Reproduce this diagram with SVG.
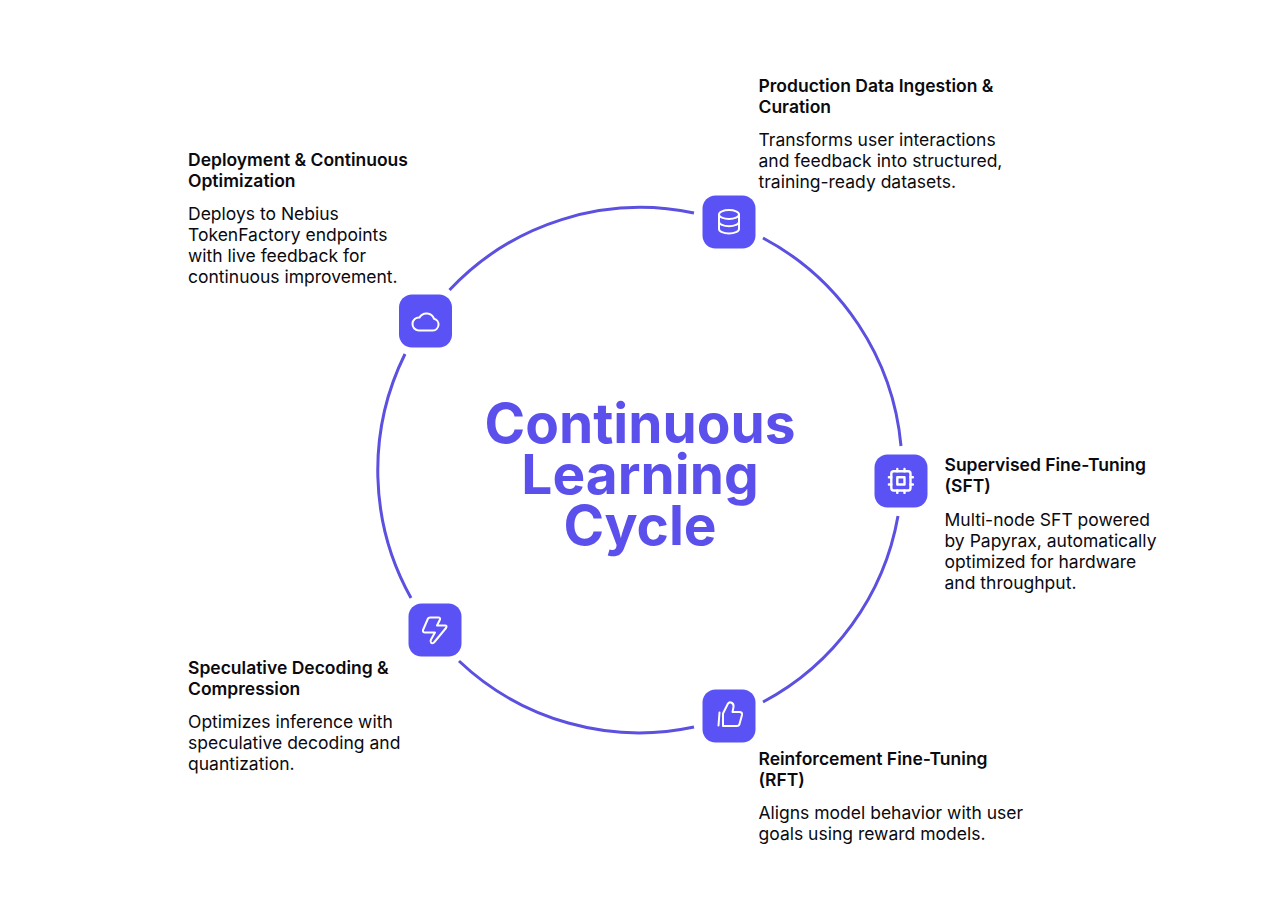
<svg xmlns="http://www.w3.org/2000/svg" width="1280" height="919" viewBox="0 0 1280 919">
<style>
.h{font:600 17.5px Inter,"Liberation Sans",sans-serif;fill:#0a0a0f}
.b{font:400 17.5px Inter,"Liberation Sans",sans-serif;fill:#0a0a0f}
.c{font:700 55px Inter,"Liberation Sans",sans-serif;fill:#5b50ec;text-anchor:middle}
.a{fill:none;stroke:#5b50e0;stroke-width:3}
.bx{fill:#5b52f5}
.i{fill:none;stroke:#fff;stroke-width:2;stroke-linecap:round;stroke-linejoin:round}
</style>
<rect width="1280" height="919" fill="#fff"/>
<g id="connectors">
<path class="a" d="M449.500 290A262 262 0 0 1 694 213"/>
<path class="a" d="M763 238A262 262 0 0 1 901 446"/>
<path class="a" d="M898 516A262 262 0 0 1 763 702"/>
<path class="a" d="M694 727A262 262 0 0 1 459 661"/>
<path class="a" d="M411 598A262 262 0 0 1 405 354"/>
</g>
<g id="center"><text class="c" x="640" y="443">Continuous</text><text class="c" x="640" y="494">Learning</text><text class="c" x="640" y="545">Cycle</text></g>
<g id="node-data">
<rect class="bx" x="702.500" y="195.500" width="53" height="53" rx="13"/>
<g class="i"><ellipse cx="729" cy="214.500" rx="10" ry="4.500"/><path d="M719 214.500V229A10 4.500 0 0 0 739 229V214.500"/><path d="M719 221.700A10 4.500 0 0 0 739 221.700"/></g>
<text class="h" x="758.500" y="91.500">Production Data Ingestion &amp;</text><text class="h" x="758.500" y="112.500">Curation</text>
<text class="b" x="758.500" y="146">Transforms user interactions</text><text class="b" x="758.500" y="167">and feedback into structured,</text><text class="b" x="758.500" y="188">training-ready datasets.</text>
</g>
<g id="node-sft">
<rect class="bx" x="874.500" y="454.500" width="53" height="53" rx="13"/>
<g class="i" transform="translate(886.500,466.500) scale(1.2)"><rect x="4" y="4" width="16" height="16" rx="2"/><rect x="9" y="9" width="6" height="6"/><path d="M15 2v2M15 20v2M2 15h2M2 9h2M20 15h2M20 9h2M9 2v2M9 20v2"/></g>
<text class="h" x="944.500" y="470.500">Supervised Fine-Tuning</text><text class="h" x="944.500" y="491.500">(SFT)</text>
<text class="b" x="944.500" y="526">Multi-node SFT powered</text><text class="b" x="944.500" y="547">by Papyrax, automatically</text><text class="b" x="944.500" y="568">optimized for hardware</text><text class="b" x="944.500" y="589">and throughput.</text>
</g>
<g id="node-rft">
<rect class="bx" x="702.500" y="689.500" width="53" height="53" rx="13"/>
<g class="i"><path d="M719.500 712.500L718.500 725.500"/><path d="M723 713.500L728 703.500Q729 702 731 702.500Q734 703.500 733.500 707L732.500 712H739.500Q742.500 712 742 715L739.500 724Q739 726 737 726H723Z"/></g>
<text class="h" x="758.500" y="764.500">Reinforcement Fine-Tuning</text><text class="h" x="758.500" y="785.500">(RFT)</text>
<text class="b" x="758.500" y="819">Aligns model behavior with user</text><text class="b" x="758.500" y="840">goals using reward models.</text>
</g>
<g id="node-spec">
<rect class="bx" x="408.500" y="603.500" width="53" height="53" rx="13"/>
<g class="i"><path d="M428 618.500Q428.500 617.500 430 617.500H438.500Q440.500 617.500 440 619.500L437 625.500H445Q447.500 625.500 446 628L434 642.500Q432 644 431 642.500Q430 641.500 431 639.500L435 632.500H425Q422.500 632.500 423 630Z"/></g>
<text class="h" x="188" y="673.500">Speculative Decoding &amp;</text><text class="h" x="188" y="694.500">Compression</text>
<text class="b" x="188" y="728">Optimizes inference with</text><text class="b" x="188" y="749">speculative decoding and</text><text class="b" x="188" y="770">quantization.</text>
</g>
<g id="node-deploy">
<rect class="bx" x="399" y="294.500" width="53" height="53" rx="13"/>
<g class="i"><path d="M418.500 330.500H433A6 6 0 0 0 434 318.700A8 8 0 0 0 419.500 317.500A6.500 6.500 0 0 0 418.500 330.500Z"/></g>
<text class="h" x="188" y="165.500">Deployment &amp; Continuous</text><text class="h" x="188" y="186.500">Optimization</text>
<text class="b" x="188" y="220">Deploys to Nebius</text><text class="b" x="188" y="241">TokenFactory endpoints</text><text class="b" x="188" y="262">with live feedback for</text><text class="b" x="188" y="283">continuous improvement.</text>
</g>
</svg>
